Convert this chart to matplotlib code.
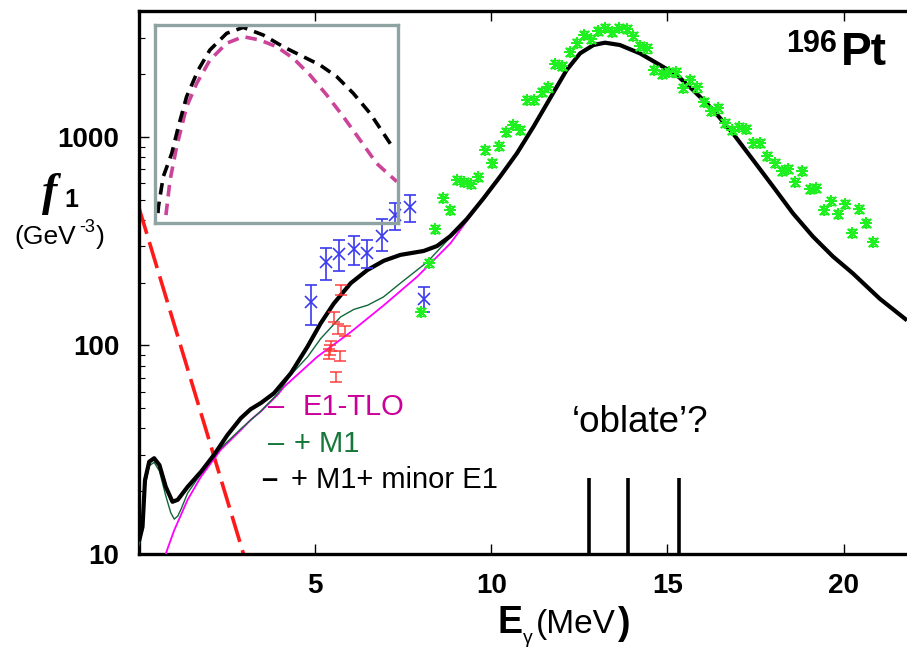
import numpy as np
import matplotlib
matplotlib.use("Agg")
import matplotlib.pyplot as plt

plt.rcParams['font.family'] = ['Liberation Sans', 'DejaVu Sans']

# ---------------- data ----------------
# total model (+ M1 + minor E1), thick black
tot_x = [0.0, 0.10, 0.17, 0.29, 0.43, 0.58, 0.76, 0.95, 1.10, 1.38, 1.76, 2.13, 2.51, 2.89,
         3.17, 3.46, 3.83, 4.31, 4.78, 5.16, 5.53, 6.01, 6.48, 6.95, 7.42, 8.08, 8.46, 8.84, 9.31,
         9.78, 10.25, 10.73, 11.20, 11.67, 12.14, 12.52, 12.90, 13.23, 13.65, 14.22, 14.79,
         15.26, 15.73, 16.30, 16.86, 17.43, 18.00, 18.56, 19.13, 19.70, 20.26, 21.02, 21.8]
tot_y = [11.5, 13.5, 22.6, 27.7, 28.8, 26.7, 21.0, 17.8, 18.2, 21.0, 24.8, 29.9, 37.2, 44.8,
         49.5, 53.0, 59.0, 73.6, 98.6, 128, 159, 199, 230, 255, 272, 284, 300, 335, 405,
         508, 646, 836, 1122, 1535, 2096, 2518, 2761, 2833, 2761, 2518, 2213,
         1984, 1678, 1346, 1040, 776, 578, 431, 333, 267, 222, 168, 132]

# E1-TLO, thin magenta
tlo_x = [0.76, 0.81, 1.0, 1.38, 1.76, 2.32, 2.89, 3.17, 3.46, 3.93, 4.12, 5.06, 6.01, 6.95,
         7.90, 8.84, 9.22, 9.78, 10.25]
tlo_y = [10.0, 10.6, 13.0, 18.2, 23.5, 31.6, 39.3, 44.0, 48.3, 57.9, 63.4, 88.3, 116, 156,
         214, 309, 378, 505, 644]

# + M1, thin green
m1_x = [0.0, 0.10, 0.17, 0.29, 0.43, 0.58, 0.76, 0.90, 1.0, 1.10, 1.20, 1.38, 1.76, 2.13,
        2.89, 3.46, 3.93, 4.30, 4.78, 5.16, 5.72, 6.10, 6.49, 6.94, 7.42, 8.19, 8.84, 9.22,
        9.78, 10.25]
m1_y = [11.0, 13.0, 21.0, 26.5, 27.5, 25.0, 19.0, 15.8, 14.7, 15.2, 16.5, 19.6, 24.3, 30.0,
        39.8, 48.5, 58.5, 72, 88, 108, 137, 149, 156, 171, 199, 252, 331, 381,
        506, 645]

# low-energy exponential (red dashed)
red_x = [0.0, 3.2]
red_y = [457, 7.4]

# blue data (x markers)
blue_x = [4.87, 5.30, 5.69, 6.10, 6.48, 6.90, 7.26, 7.70, 8.08]
blue_y = [162, 252, 275, 289, 277, 335, 423, 463, 168]
blue_lo = [125, 206, 228, 243, 235, 284, 358, 393, 144]
blue_hi = [195, 292, 320, 335, 320, 403, 482, 527, 191]

# red data
red_dx = [5.72, 5.53, 5.66, 5.84, 5.44, 5.41, 5.39, 5.70, 5.60]
red_dy = [185, 137, 120, 118, 100, 95, 91, 89, 71]
red_rel_err = 0.055

# green data (asterisks)
grn_x = [8.01, 8.22, 8.41, 8.62, 8.82, 9.03, 9.22, 9.41, 9.61, 9.83, 10.02, 10.22, 10.42,
         10.63, 10.82, 11.01, 11.22, 11.44, 11.62, 11.81, 12.02, 12.22, 12.43, 12.62, 12.82,
         13.02, 13.23, 13.44, 13.63, 13.84, 14.03, 14.22, 14.43, 14.62, 14.84, 15.05, 15.24,
         15.43, 15.64, 15.83, 16.03, 16.25, 16.44, 16.63, 16.84, 17.03, 17.24, 17.43, 17.64,
         17.83, 18.05, 18.24, 18.42, 18.63, 18.83, 19.04, 19.23, 19.43, 19.63, 19.84, 20.03,
         20.24, 20.43, 20.64, 20.83]
grn_y = [145, 248, 363, 511, 447, 622, 607, 595, 641, 866, 754, 906, 1060,
         1142, 1081, 1505, 1505, 1648, 1729, 2239, 2198, 2547, 2813, 3084, 2941,
         3236, 3322, 3199, 3322, 3286, 3049, 2729, 2661, 2094, 2004, 2056, 2040,
         1712, 1875, 1729, 1476, 1336, 1372, 1163, 1081, 1120, 1089, 940, 940,
         813, 748, 689, 700, 607, 689, 564, 572, 447, 493, 426, 477,
         347, 452, 386, 315]
grn_rel_err = 0.045

# 'oblate' sticks
obl_x = [12.76, 13.89, 15.33]
obl_top = 23.1

# inset curves (normalised inset units)
ins_blk_u = [0.012, 0.014, 0.034, 0.069, 0.096, 0.130, 0.178, 0.226, 0.295, 0.363, 0.446,
             0.528, 0.610, 0.679, 0.748, 0.816, 0.885, 0.940, 0.981]
ins_blk_v = [0.05, 0.082, 0.234, 0.352, 0.486, 0.638, 0.773, 0.874, 0.958, 0.988, 0.949,
             0.890, 0.840, 0.798, 0.739, 0.655, 0.554, 0.453, 0.377]
ins_mag_u = [0.045, 0.062, 0.089, 0.130, 0.172, 0.226, 0.295, 0.363, 0.432, 0.501, 0.569,
             0.638, 0.707, 0.775, 0.844, 0.912, 0.995]
ins_mag_v = [0.040, 0.217, 0.385, 0.587, 0.706, 0.823, 0.908, 0.941, 0.924, 0.890, 0.832,
             0.747, 0.646, 0.537, 0.419, 0.301, 0.209]

xticks = [5, 10, 15, 20]
yticks = [10, 100, 1000]

# ---------------- figure ----------------
W, H = 907, 649
fig = plt.figure(figsize=(W / 100, H / 100), dpi=100)
ax = fig.add_axes([139 / W, 95 / H, (W - 139) / W, (554 - 11) / H])
ax.set_yscale('log')
ax.set_xlim(0, 21.8)
ax.set_ylim(10, 4020)

ax.plot(red_x, red_y, color='#ff1a1a', lw=2.6, dashes=(7.5, 2.4), zorder=2)
ax.plot(tlo_x, tlo_y, color='#ff00ff', lw=1.3, zorder=3)
ax.plot(m1_x, m1_y, color='#11663a', lw=1.0, zorder=4)
ax.plot(tot_x, tot_y, color='black', lw=3.0, zorder=5, solid_capstyle='butt',
        solid_joinstyle='round')

by = np.array(blue_y)
ax.errorbar(blue_x, blue_y, yerr=[by - np.array(blue_lo), np.array(blue_hi) - by],
            fmt='x', color='#3a3aee', ms=8, mew=1.2, elinewidth=1.2, capsize=4, capthick=1.2,
            zorder=6)
ry = np.array(red_dy)
ax.errorbar(red_dx, red_dy, yerr=[ry * red_rel_err, ry * red_rel_err], fmt='none',
            ecolor='#ff3030', elinewidth=1.2, capsize=4, capthick=1.2, alpha=0.85, zorder=6)
gy = np.array(grn_y)
ax.errorbar(grn_x, grn_y, yerr=[gy * grn_rel_err, gy * grn_rel_err], fmt='none',
            ecolor='#22e022', elinewidth=1.0, capsize=3.5, capthick=1.0, zorder=6)
ax.plot(grn_x, grn_y, ls='none', marker=(4, 2, 0), ms=9, mew=1.3, color='#1ff01f', zorder=7)
ax.plot(grn_x, grn_y, ls='none', marker=(4, 2, 45), ms=9, mew=1.3, color='#1ff01f', zorder=7)

ax.vlines(obl_x, 10, obl_top, color='black', lw=2.6, zorder=5)

for s in ['left', 'bottom', 'top']:
    ax.spines[s].set_linewidth(2.4)
ax.spines['right'].set_visible(False)

ax.set_xticks(xticks)
ax.set_xticklabels([str(t) for t in xticks])
ax.set_yticks(yticks)
ax.set_yticklabels([str(t) for t in yticks])
ax.tick_params(which='major', direction='in', length=7, width=1.0, top=True, right=False,
               labelsize=20, pad=14)
ax.tick_params(which='minor', direction='in', length=4, width=0.8, right=False)
ax.tick_params(axis='x', which='minor', bottom=False, top=False)
for lab in ax.get_xticklabels() + ax.get_yticklabels():
    lab.set_fontweight('bold')

# ---------------- texts ----------------
def ftxt(px, py, s, **kw):
    fig.text(px / W, 1 - py / H, s, **kw)

ftxt(42, 205, 'f', family=['Liberation Serif', 'DejaVu Serif'], style='italic',
     fontweight='bold', fontsize=33, va='baseline')
ftxt(64, 207, '1', fontweight='bold', fontsize=18, va='baseline')
ftxt(14, 244, '(GeV', fontsize=19, va='baseline')
ftxt(79, 232, '-3', fontsize=13, va='baseline')
ftxt(96, 244, ')', fontsize=19, va='baseline')

ftxt(498, 633, 'E', fontweight='bold', fontsize=27, va='baseline')
ftxt(523, 643, 'γ', fontsize=14, va='baseline')
ftxt(536, 633, '(MeV', fontsize=24, va='baseline')
ftxt(617, 634, ')', fontweight='bold', fontsize=27, va='baseline')

ftxt(786, 52, '196', fontweight='bold', fontsize=22, va='baseline')
ftxt(841, 65, 'Pt', fontweight='bold', fontsize=33, va='baseline')

ftxt(572, 432, '\u2018oblate\u2019?', fontsize=26.5, va='baseline')

LEG = 21
ftxt(268, 415, '\u2013', color='#cc0099', fontsize=LEG, va='baseline')
ftxt(303, 415, 'E1-TLO', color='#cc0099', fontsize=LEG, va='baseline')
ftxt(268, 452, '\u2013', color='#16773a', fontsize=LEG, va='baseline')
ftxt(294, 452, '+ M1', color='#16773a', fontsize=LEG, va='baseline')
ftxt(261, 488, '\u2013', color='black', fontsize=LEG, fontweight='bold', va='baseline')
ftxt(291, 488, '+ M1+ minor E1', color='black', fontsize=LEG, va='baseline')

# ---------------- inset ----------------
ins = fig.add_axes([155 / W, 1 - 223 / H, (398 - 155) / W, (223 - 25) / H])
ins.set_facecolor('none')
ins.set_xlim(0, 1)
ins.set_ylim(0, 1)
ins.plot(ins_mag_u, ins_mag_v, color='#cc4499', lw=2.6, dashes=(3.2, 2.0))
ins.plot(ins_blk_u, ins_blk_v, color='black', lw=2.6, dashes=(3.2, 2.0))
ins.set_xticks([])
ins.set_yticks([])
for s in ins.spines.values():
    s.set_color('#8fa3a3')
    s.set_linewidth(2.4)

fig.savefig('out.png', dpi=100)
